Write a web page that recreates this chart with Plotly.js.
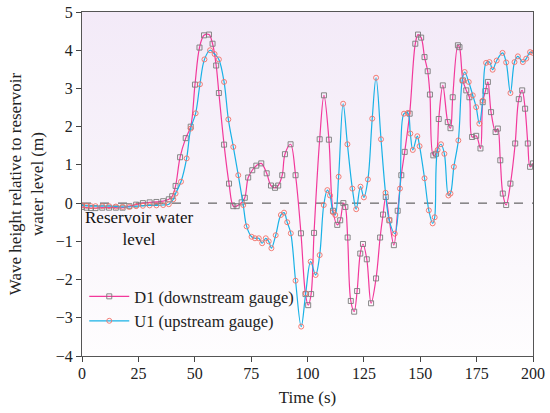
<!DOCTYPE html>
<html>
<head>
<meta charset="utf-8">
<script src="https://cdn.plot.ly/plotly-3.0.1.min.js"></script>
<style>
html,body{margin:0;padding:0;background:#fff;}
#wrap{position:relative;width:550px;height:413px;}
#bg{position:absolute;left:82px;top:12px;width:451px;height:344px;background:linear-gradient(to bottom,#f3eaf8 0%,#f8f3fa 50%,#fefdfe 100%);}
#chart{position:absolute;left:0;top:0;width:550px;height:413px;}
</style>
</head>
<body>
<div id="wrap"><div id="bg"></div><div id="chart"></div></div>
<script>
// D1 (downstream gauge)
var d1Time = [0,2,4,6,9,12,15,18,21,24,27,30,33,36,38.5,40,41.5,43.5,46,48.2,50.1,52.1,54.1,56.3,57.9,59.5,60.7,63,65.2,67.1,68.6,70.8,72.2,73.7,75.5,77.3,79.5,81.9,83.8,85.6,87,88.8,90,92.5,94.7,97.1,99.1,100.3,101.6,102.9,105.4,107.3,109.5,111.3,113.2,114.5,115.9,116.8,117.8,119.2,120.7,122,123.4,124.6,126.3,128.2,130.4,132.2,133.5,134.7,136.3,138.3,140,141.6,143.1,145.3,147.8,149,150.4,151.9,153.3,154.3,155.8,157,158.2,160,162.2,163.4,164.4,166.7,167.4,168.9,170.4,171.8,173,174.8,176.7,177.7,178.9,180,181.4,183.4,184.4,185.5,186.6,188.1,190,192.1,193.7,195.2,196.5,197.7,198.7,200];
var d1Height = [-0.1,-0.12,-0.13,-0.13,-0.12,-0.12,-0.12,-0.12,-0.08,-0.04,0.0,0.02,0.03,0.05,0.1,0.18,0.45,1.2,1.7,2.0,3.1,4.07,4.39,4.41,4.17,3.6,2.88,1.53,0.51,-0.08,-0.08,0.02,0.14,0.67,0.86,0.98,1.04,0.78,0.46,0.4,0.46,0.73,1.28,1.54,0.73,-0.79,-2.38,-2.67,-2.38,-0.78,1.67,2.82,1.66,-0.2,-0.57,-0.45,0.0,-0.1,-0.9,-2.56,-2.84,-2.3,-1.32,-1.07,-1.47,-2.62,-1.97,-0.9,-0.3,0.16,-0.45,-1.1,-0.2,0.73,1.34,2.34,4.17,4.41,4.33,3.82,3.45,2.84,1.25,1.29,2.2,3.08,2.12,1.96,2.77,4.13,4.08,3.21,2.95,2.77,1.73,1.76,1.43,2.64,2.93,3.17,2.38,1.86,1.95,1.12,0.25,-0.05,0.51,1.56,2.72,2.95,2.47,1.56,0.95,1.04];

// U1 (upstream gauge)
var u1Time = [0,2,4,6,9,12,15,18,21,24,27,30,33,36,38.5,40.5,41.5,43.9,46.4,48.2,50.4,52.3,54.3,56.8,58.8,60.7,63,64.9,67.1,69.3,71.5,73,75.2,76.7,78.4,79.9,81.5,82.8,84,85.9,88.2,89.6,91,92.6,94.7,97.2,99.2,101.4,103.6,105.4,107.2,108.8,110,111.3,112.3,113.8,115.8,117.7,119.9,121.6,123.5,125,126.8,128.7,130.4,132.6,134.6,136.2,138.7,141,142.8,144.5,145.6,146.7,148.7,149.7,151.9,153.8,155.5,156.4,157.7,159.2,160.7,162.5,163.4,164.9,166.9,168.6,169.7,171.5,173.3,174.8,176.2,177.7,179.2,180.7,182.1,183.9,186.5,188.1,190,191.8,193.3,195.5,197,198.7,200];
var u1Height = [-0.06,-0.07,-0.08,-0.08,-0.08,-0.08,-0.09,-0.1,-0.1,-0.08,-0.07,-0.06,-0.06,-0.05,-0.03,0.1,0.25,0.56,1.17,1.95,2.35,3.11,3.76,4.0,3.9,3.76,3.17,2.19,1.47,0.73,-0.05,-0.61,-0.88,-0.92,-0.92,-1.05,-0.92,-1.0,-1.18,-0.84,-0.31,-0.25,-0.5,-0.79,-2.03,-3.23,-2.36,-1.53,-1.88,-1.36,-0.05,0.34,0.2,-0.24,-0.31,0.69,2.6,1.54,0.38,-0.16,0.43,0.15,0.62,2.21,3.28,1.67,0.27,-0.44,-0.8,0.38,2.34,2.36,1.82,1.39,1.75,1.49,0.65,-0.19,-0.53,-0.37,1.39,1.54,1.29,0.2,0.25,0.95,1.64,3.21,3.43,3.17,2.82,2.51,2.08,2.68,3.67,3.69,3.49,3.73,3.93,3.68,2.88,3.69,3.84,3.69,3.78,3.95,3.93];

var xTicks = [0,25,50,75,100,125,150,175,200];
var yTicks = [-4,-3,-2,-1,0,1,2,3,4,5];
var referenceLevel = 0;

var serif = "'Liberation Serif', 'Times New Roman', Times, serif";

var traces = [
  {
    x: d1Time, y: d1Height, type: 'scatter', mode: 'lines+markers',
    name: 'D1 (downstream gauge)',
    line: {color: '#f2399b', width: 1.2, shape: 'spline', smoothing: 1},
    marker: {symbol: 'square-open', size: 5, color: '#7a7a7a', line: {width: 0.9, color: '#7a7a7a'}}
  },
  {
    x: u1Time, y: u1Height, type: 'scatter', mode: 'lines+markers',
    name: 'U1 (upstream gauge)',
    line: {color: '#19b2e6', width: 1.2, shape: 'spline', smoothing: 1},
    marker: {symbol: 'circle-open', size: 5, color: '#f07068', line: {width: 0.9, color: '#f07068'}}
  }
];

var layout = {
  width: 550, height: 413,
  margin: {l: 82, r: 17, t: 12, b: 57},
  paper_bgcolor: 'rgba(0,0,0,0)',
  plot_bgcolor: 'rgba(0,0,0,0)',
  font: {family: serif, size: 16, color: '#222'},
  showlegend: true,
  legend: {
    x: 0.005, y: 0.052, xanchor: 'left', yanchor: 'bottom',
    bgcolor: 'rgba(0,0,0,0)', font: {family: serif, size: 16.5, color: '#222'},
    itemwidth: 40, tracegroupgap: 0
  },
  xaxis: {
    range: [0, 200], tickvals: xTicks, ticktext: xTicks.map(String),
    ticks: 'outside', ticklen: 5, tickcolor: '#444', tickwidth: 1,
    ticklabelstandoff: -2,
    showline: true, linecolor: '#555', linewidth: 1, mirror: true,
    showgrid: false, zeroline: false,
    tickfont: {family: serif, size: 16, color: '#222'},
    title: {text: 'Time (s)', font: {family: serif, size: 17, color: '#222'}, standoff: 9}
  },
  yaxis: {
    range: [-4, 5], tickvals: yTicks,
    ticks: 'outside', ticklen: 5, tickcolor: '#444', tickwidth: 1,
    showline: true, linecolor: '#555', linewidth: 1, mirror: true,
    showgrid: false, zeroline: false,
    tickfont: {family: serif, size: 16, color: '#222'},
    title: {text: 'Wave height relative to reservoir<br>water level (m)', font: {family: serif, size: 17, color: '#222'}, standoff: 7}
  },
  shapes: [{
    type: 'line', xref: 'paper', x0: 0, x1: 1, yref: 'y', y0: referenceLevel, y1: referenceLevel,
    line: {color: '#444', width: 1, dash: 'dash'}, layer: 'below'
  }],
  annotations: [{
    xref: 'paper', x: 0.003, xanchor: 'left', yref: 'y', y: referenceLevel, yanchor: 'top', yshift: -3,
    text: 'Reservoir water<br>level', showarrow: false, align: 'center',
    font: {family: serif, size: 17, color: '#111'}
  }]
};

Plotly.newPlot('chart', traces, layout, {displayModeBar: false, staticPlot: true});
</script>
</body>
</html>
